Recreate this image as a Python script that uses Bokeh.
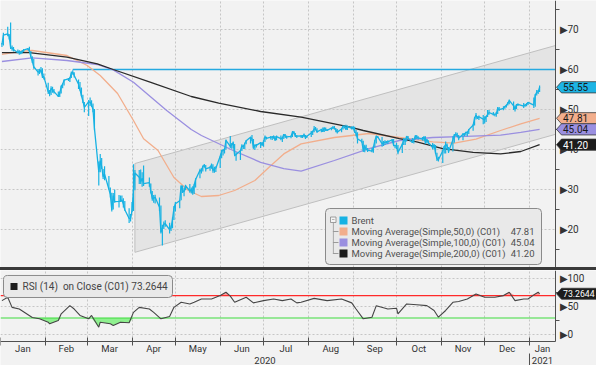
import numpy as np
import pandas as pd
from bokeh.plotting import figure
from bokeh.models import (Range1d, LinearAxis, FixedTicker, Grid, BoxAnnotation,
                          Label, PolyAnnotation, Div)
from bokeh.layouts import column
from bokeh.embed import file_html
from bokeh.resources import INLINE

# ---------------- data ----------------
holidays = ["2020-04-10", "2020-12-25", "2021-01-01"]

brent_close = [
    66.25, 68.60, 68.91, 68.27, 65.44, 65.37, 64.98, 64.20, 64.49, 64.00, 64.62, 64.85, 65.20, 64.59, 63.21, 62.04, 60.69, 59.32, 59.51, 59.81, 58.29, 58.16,
    54.45, 53.96, 55.28, 54.93, 54.47, 53.27, 54.01, 55.79, 56.34, 57.32, 57.67, 57.75, 59.12, 59.31, 58.50, 56.30, 54.95, 53.43, 52.18, 50.52,
    51.90, 51.86, 51.13, 49.99, 45.27, 34.36, 37.22, 35.79, 33.22, 33.85, 30.05, 28.73, 24.88, 28.47, 26.98, 27.03, 27.15, 27.39, 26.34, 24.93, 22.76, 22.74,
    24.74, 29.94, 34.11, 33.05, 31.87, 32.84, 31.48, 31.74, 29.60, 27.69, 27.82, 28.08, 25.57, 19.33, 20.37, 21.33, 21.44, 19.99, 20.46, 22.54, 25.27,
    26.44, 27.20, 30.97, 29.72, 29.46, 30.97, 29.63, 29.98, 29.19, 31.13, 32.50, 34.81, 34.65, 35.75, 36.06, 35.13, 35.53, 36.17, 34.74, 35.29, 35.33,
    38.32, 39.57, 39.79, 39.99, 42.30, 40.80, 41.18, 41.73, 38.55, 38.73, 39.72, 40.96, 40.71, 41.51, 42.19, 43.08, 42.63, 40.31, 41.05, 41.02, 41.71, 41.15,
    42.03, 43.14, 42.80, 43.10, 43.08, 43.29, 42.35, 43.24, 42.72, 42.90, 43.79, 43.37, 43.14, 43.28, 44.32, 44.29, 43.31, 43.34, 43.41, 43.22, 43.75, 42.94, 43.30,
    44.15, 44.43, 45.17, 45.09, 44.40, 44.99, 44.50, 45.43, 44.96, 44.80, 45.37, 45.46, 45.37, 44.90, 44.35, 45.13, 45.86, 45.64, 45.09, 45.81, 45.28,
    45.58, 44.43, 44.07, 42.66, 42.01, 39.78, 40.79, 40.06, 39.83, 39.61, 40.53, 42.22, 43.30, 43.15, 41.44, 41.72, 41.77, 41.94, 41.92, 42.43, 41.03, 40.95,
    40.93, 39.27, 41.29, 42.65, 41.99, 43.34, 42.85, 41.72, 42.45, 43.32, 43.16, 42.93, 42.62, 43.16, 41.73, 42.46, 41.77, 40.46, 41.20, 39.12, 37.65, 37.46,
    39.71, 40.71, 41.23, 40.93, 39.45, 42.40, 43.61, 43.80, 43.53, 42.78, 43.82, 43.75, 44.34, 44.20, 44.96, 46.06, 47.86, 48.61, 47.80, 48.18, 47.59,
    47.42, 48.25, 48.71, 49.25, 48.79, 48.84, 48.86, 50.25, 49.97, 50.29, 50.76, 51.08, 51.50, 52.26, 50.91, 50.08, 51.20, 51.29, 50.86, 51.09, 51.34, 51.80,
    51.09, 53.60, 54.30, 54.38, 55.55,
]
brent_high = [
    66.6, 69.2, 70.7, 68.9, 71.75, 66.0, 65.6, 65.0, 64.8, 64.6, 64.8, 65.1, 65.3, 65.7, 64.6, 63.3, 62.6, 60.1, 60.2, 60.6, 60.3, 59.0,
    56.7, 54.9, 55.8, 55.7, 55.1, 54.5, 54.5, 56.0, 56.5, 57.5, 57.9, 58.1, 59.5, 59.8, 59.3, 57.5, 56.9, 55.5, 53.7, 51.9,
    52.4, 53.0, 52.3, 51.5, 50.1, 37.0, 38.9, 37.9, 35.1, 35.8, 33.4, 30.5, 29.2, 29.1, 30.0, 28.6, 28.5, 28.5, 27.8, 27.1, 25.3, 23.9,
    26.9, 36.3, 34.9, 34.9, 35.0, 34.3, 36.0, 33.0, 31.5, 29.6, 28.6, 28.7, 28.0, 26.0, 21.2, 22.0, 22.3, 21.7, 21.0, 23.0, 25.9,
    26.9, 27.4, 31.0, 31.0, 30.3, 31.2, 31.4, 30.5, 30.8, 31.3, 32.8, 35.2, 35.3, 36.0, 36.4, 36.1, 35.8, 36.5, 36.3, 35.7, 35.8,
    38.4, 39.9, 40.1, 40.4, 42.5, 43.4, 41.6, 42.0, 41.4, 39.3, 39.9, 41.3, 41.1, 41.7, 42.4, 43.2, 43.6, 42.6, 41.3, 41.4, 41.9, 41.9,
    42.3, 43.5, 43.2, 43.4, 43.3, 43.5, 43.4, 43.5, 43.5, 43.0, 43.9, 43.9, 43.5, 43.5, 44.6, 44.6, 44.1, 43.6, 43.6, 43.6, 44.0, 43.6, 43.5,
    44.6, 44.7, 45.9, 45.6, 45.3, 45.2, 45.5, 45.5, 45.5, 45.1, 45.5, 45.9, 45.9, 45.4, 45.1, 45.3, 46.0, 46.0, 46.2, 46.0, 45.8,
    45.9, 45.7, 44.9, 44.3, 42.7, 42.2, 41.2, 41.2, 40.4, 40.4, 40.9, 42.4, 43.5, 43.4, 43.1, 42.1, 42.3, 42.1, 42.3, 42.6, 42.6, 41.2,
    41.7, 41.1, 41.5, 42.9, 42.8, 43.4, 43.4, 42.9, 42.6, 43.6, 43.6, 43.3, 43.1, 43.3, 43.3, 42.6, 42.3, 41.6, 41.3, 41.1, 39.2, 38.2,
    39.9, 40.9, 42.0, 41.5, 40.6, 43.3, 43.9, 44.3, 44.2, 43.6, 44.1, 44.1, 44.4, 44.5, 45.1, 46.3, 48.1, 49.1, 48.3, 48.5, 48.6,
    48.3, 48.4, 49.9, 49.9, 49.4, 48.9, 49.4, 50.6, 50.6, 50.8, 50.9, 51.2, 51.9, 52.5, 52.0, 51.0, 51.3, 51.5, 51.6, 51.4, 51.6, 51.9,
    53.0, 53.9, 54.9, 54.9, 56.0,
]
brent_low = [
    65.6, 66.0, 68.3, 67.5, 65.1, 64.7, 64.5, 64.1, 63.7, 63.8, 64.0, 64.4, 64.8, 64.4, 63.0, 61.6, 60.2, 58.5, 58.9, 59.2, 57.9, 57.5,
    53.9, 53.3, 53.6, 54.2, 54.0, 53.1, 53.1, 54.0, 55.3, 56.0, 57.1, 56.9, 57.9, 58.7, 58.0, 55.1, 54.7, 53.3, 51.6, 49.3,
    48.4, 50.9, 50.6, 49.3, 44.8, 31.0, 34.3, 35.1, 32.6, 32.3, 30.0, 28.0, 24.5, 25.0, 26.7, 25.5, 26.9, 26.9, 25.5, 24.7, 21.65, 22.0,
    24.3, 24.6, 29.8, 31.4, 31.4, 30.7, 30.9, 30.7, 29.0, 27.2, 26.7, 26.5, 24.6, 19.0, 15.98, 20.1, 20.7, 19.0, 19.6, 20.3, 22.4,
    24.5, 25.3, 27.3, 29.1, 28.3, 29.8, 29.2, 29.0, 28.7, 28.9, 30.5, 32.8, 34.0, 34.5, 35.5, 34.5, 34.7, 35.2, 34.2, 34.2, 34.4,
    35.4, 37.8, 38.5, 39.0, 40.0, 40.4, 40.2, 40.3, 38.3, 37.2, 37.4, 39.6, 40.1, 40.1, 41.3, 41.5, 42.1, 40.2, 39.9, 40.5, 40.4, 40.9,
    40.7, 41.9, 42.5, 42.5, 42.4, 42.7, 42.1, 42.3, 42.3, 41.9, 42.6, 42.9, 42.7, 42.8, 43.1, 43.8, 43.1, 42.9, 42.9, 42.9, 43.1, 42.6, 42.9,
    43.1, 43.6, 44.3, 44.8, 44.2, 44.3, 44.4, 44.4, 44.6, 44.6, 44.8, 45.1, 45.0, 44.3, 44.0, 44.3, 45.0, 45.3, 44.9, 44.9, 45.0,
    45.0, 44.2, 43.3, 41.5, 41.7, 39.4, 39.3, 39.8, 39.4, 39.3, 39.2, 40.5, 41.5, 42.9, 40.7, 40.9, 41.1, 41.5, 41.4, 41.8, 40.8, 40.3,
    40.1, 38.8, 39.1, 41.1, 41.1, 42.0, 42.5, 41.6, 41.5, 42.5, 42.6, 42.5, 42.2, 42.2, 41.4, 41.6, 41.3, 40.0, 40.2, 39.0, 37.1, 37.0,
    36.6, 39.0, 39.0, 40.0, 39.1, 39.5, 41.7, 43.3, 43.1, 42.3, 42.3, 43.3, 43.5, 43.3, 43.9, 44.7, 46.0, 47.5, 47.6, 47.4, 46.3,
    46.5, 46.9, 48.1, 48.7, 48.5, 48.3, 48.2, 48.9, 49.6, 49.8, 50.2, 50.5, 51.0, 51.3, 49.9, 49.5, 50.1, 50.9, 50.4, 50.7, 50.8, 51.1,
    50.4, 50.7, 53.5, 53.9, 54.4,
]

ma50_dates = ["2020-01-02", "2020-01-14", "2020-01-23", "2020-02-16", "2020-03-01", "2020-03-10",
              "2020-03-22", "2020-04-02", "2020-04-09", "2020-04-19", "2020-04-30", "2020-05-10",
              "2020-05-19", "2020-05-31", "2020-06-11", "2020-06-25", "2020-07-05", "2020-07-15",
              "2020-07-27", "2020-08-19", "2020-09-12", "2020-10-03", "2020-10-26", "2020-11-10",
              "2020-11-25", "2020-12-12", "2020-12-26", "2021-01-08"]
ma50 = [63.8, 64.5, 64.75, 63.5, 61.0, 58.5, 54.0, 47.25, 42.7, 39.75, 33.0, 29.75, 28.25, 28.5,
        29.75, 32.25, 35.6, 38.9, 41.4, 43.0, 44.0, 43.0, 41.9, 41.6, 42.6, 44.75, 46.4, 47.81]

ma100_dates = ["2020-01-02", "2020-01-23", "2020-02-16", "2020-03-08", "2020-03-19", "2020-04-02",
               "2020-04-25", "2020-05-12", "2020-05-19", "2020-06-10", "2020-06-29", "2020-07-15",
               "2020-07-27", "2020-08-19", "2020-09-12", "2020-10-03", "2020-10-26", "2020-11-18",
               "2020-12-12", "2020-12-26", "2021-01-08"]
ma100 = [62.0, 62.9, 62.25, 61.25, 59.9, 56.8, 49.75, 45.0, 43.5, 39.75, 36.8, 35.2, 34.6, 37.25,
         40.2, 42.25, 43.0, 43.3, 43.6, 44.3, 45.04]

ma200_dates = ["2020-01-02", "2020-01-21", "2020-02-16", "2020-03-08", "2020-03-19", "2020-04-14",
               "2020-05-12", "2020-05-31", "2020-06-29", "2020-07-27", "2020-08-30", "2020-09-08",
               "2020-10-03", "2020-10-15", "2020-11-02", "2020-11-23", "2020-12-12", "2020-12-26",
               "2021-01-08"]
ma200 = [64.2, 64.2, 63.1, 61.4, 60.0, 56.8, 53.25, 51.6, 49.5, 48.1, 45.6, 44.75, 42.7, 41.9,
         40.2, 39.3, 38.9, 39.5, 41.20]

rsi_dates = ["2020-01-02", "2020-01-06", "2020-01-09", "2020-01-14", "2020-01-23", "2020-01-28",
             "2020-02-03", "2020-02-04", "2020-02-10", "2020-02-12", "2020-02-18", "2020-02-21",
             "2020-02-25", "2020-03-02", "2020-03-04", "2020-03-09", "2020-03-10", "2020-03-17",
             "2020-03-19", "2020-03-24", "2020-03-30", "2020-04-02", "2020-04-06", "2020-04-13",
             "2020-04-16", "2020-04-21", "2020-04-27", "2020-04-30", "2020-05-05", "2020-05-11",
             "2020-05-14", "2020-05-19", "2020-05-26", "2020-06-01", "2020-06-05", "2020-06-08",
             "2020-06-11", "2020-06-19", "2020-06-24", "2020-07-01", "2020-07-08", "2020-07-14",
             "2020-07-20", "2020-07-24", "2020-07-27", "2020-08-05", "2020-08-14", "2020-08-24",
             "2020-08-31", "2020-09-03", "2020-09-08", "2020-09-14", "2020-09-17", "2020-09-25",
             "2020-10-01", "2020-10-02", "2020-10-08", "2020-10-15", "2020-10-22", "2020-10-27",
             "2020-10-30", "2020-11-04", "2020-11-09", "2020-11-13", "2020-11-19", "2020-11-25",
             "2020-12-01", "2020-12-08", "2020-12-14", "2020-12-18", "2020-12-22", "2020-12-28",
             "2020-12-31", "2021-01-05", "2021-01-07", "2021-01-08"]
rsi = [61, 67, 49, 46, 31, 28.5, 22.5, 19.6, 25.5, 37.5, 52, 46, 34.5, 28.5, 34.5, 13.6, 22.5,
       19.6, 16.6, 22.5, 21.4, 40, 49, 46, 40, 28.5, 32.7, 49, 58, 55, 58, 64, 64, 70, 76, 69, 58,
       67, 57, 61, 64, 61, 64, 57, 58, 65, 61, 64, 57, 46, 28.5, 31.4, 52, 46, 47.5, 37.5, 55, 53.6,
       52, 43.4, 31.4, 43.4, 58, 59.5, 64, 73, 67, 67, 70, 76, 61, 64, 64, 73, 76, 73.2644]

channel_dates = ["2020-04-03", "2021-01-19"]
channel_upper = [36.5, 66.0]
channel_lower = [14.3, 43.8]
hline_start = "2020-02-20"
hline_value = 60

price_ticks = [20, 30, 40, 50, 60, 70]
price_minor = [15, 25, 35, 45, 55, 65, 75]
rsi_ticks = [0, 50, 100]
rsi_minor = [25, 75]
rsi_low, rsi_high = 30, 70
month_labels = ["Jan", "Feb", "Mar", "Apr", "May", "Jun", "Jul", "Aug", "Sep", "Oct", "Nov", "Dec", "Jan"]
year_labels = ["2020", "2021"]
legend_names = ["Brent", "Moving Average(Simple,50,0) (C01)",
                "Moving Average(Simple,100,0) (C01)", "Moving Average(Simple,200,0) (C01)"]

# ---------------- styling ----------------
W = 596
BG = "#f2f2f2"
CYAN = "#17b2e3"
SALMON = "#f2ae8c"
PURPLE = "#9a8fe0"
BLACK = "#2a2a2a"
GRID = "#c6c6c6"
AXC = "#505050"
TXT = "#333333"
FONT = "Roboto"


def ms(d):
    return pd.Timestamp(d).value / 1e6


dates = pd.bdate_range("2020-01-02", "2021-01-08")
dates = dates[~dates.isin(pd.to_datetime(holidays))]
assert len(dates) == len(brent_close) == len(brent_high) == len(brent_low)
px = dates.asi8 / 1e6

x_start = ms("2020-01-01")
x_axis = ms("2021-01-19")                              # where the value axis sits
x_end = x_start + (x_axis - x_start) * 596.0 / 555.0   # frame spans the axis strip too
xr = Range1d(x_start, x_end)

month_starts = [ms(d) for d in pd.date_range("2020-01-01", "2021-01-01", freq="MS")]
mb = month_starts + [x_axis]
month_mids = [(mb[i] + mb[i + 1]) / 2 for i in range(len(month_labels))]
yb = [ms("2020-01-01"), ms("2021-01-01"), x_axis]
year_mids = [(yb[i] + yb[i + 1]) / 2 for i in range(len(year_labels))]


def base_fig(height, yr):
    return figure(width=W, height=height, x_range=xr, y_range=yr, x_axis_type=None,
                  y_axis_type=None, toolbar_location=None, output_backend="svg",
                  background_fill_color=BG, border_fill_color=BG, outline_line_color=None,
                  min_border_left=0, min_border_right=0, min_border_top=0, min_border_bottom=0)


def right_axis(f, ticks, minor, bounds="auto"):
    ax = LinearAxis(ticker=FixedTicker(ticks=ticks, minor_ticks=minor), fixed_location=x_axis,
                    bounds=bounds,
                    major_label_overrides={t: "\u25B6" + str(t) for t in ticks},
                    axis_line_color=AXC, major_tick_out=0, major_tick_in=0,
                    minor_tick_out=4, minor_tick_in=0, minor_tick_line_color=AXC,
                    major_label_standoff=0, major_label_text_font_size="10px",
                    major_label_text_color=TXT, major_label_text_font=FONT)
    f.add_layout(ax, "right")


def grids(f, yticks, ybounds):
    f.add_layout(Grid(dimension=0, ticker=FixedTicker(ticks=month_starts), grid_line_color=GRID,
                      grid_line_dash="2 2", grid_line_width=1, cross_bounds=ybounds))
    f.add_layout(Grid(dimension=1, ticker=FixedTicker(ticks=yticks), grid_line_color=GRID,
                      grid_line_dash="2 2", grid_line_width=1, cross_bounds=(x_start, x_axis)))


def tag(f, v, half, fill, txt, tcol, size="10px"):
    f.add_layout(PolyAnnotation(xs=[556, 561, 600, 600, 561], ys=[v, v + half, v + half, v - half, v - half],
                                xs_units="screen", ys_units="data", fill_color=fill, fill_alpha=1,
                                line_color="#3a3a3a", line_width=0.8, line_alpha=1))
    f.add_layout(Label(x=562.5, y=v, x_units="screen", y_units="data", text=txt, text_baseline="middle",
                       text_font_size=size, text_color=tcol, text_font=FONT))


def sbox(f, l, r, b, t, fill, line=None, lw=1, radius=0):
    f.add_layout(BoxAnnotation(left=l, right=r, bottom=b, top=t, left_units="screen", right_units="screen",
                               bottom_units="screen", top_units="screen", fill_color=fill, fill_alpha=1,
                               line_color=line, line_width=lw, line_alpha=1, border_radius=radius,
                               level="annotation"))


# ---------------- main panel ----------------
p = base_fig(267, Range1d(10.5, 77.25))
cx = [ms(d) for d in channel_dates]
p.patch(x=[cx[0], cx[1], cx[1], cx[0]],
        y=[channel_upper[0], channel_upper[1], channel_lower[1], channel_lower[0]],
        fill_color="#e4e4e4", line_color="#bfbfbf", line_width=1, level="image")
grids(p, price_ticks, "auto")
p.segment(x0=[ms(hline_start)], y0=[hline_value], x1=[x_axis], y1=[hline_value],
          line_color="#25a9e0", line_width=1.3)
p.line([ms(d) for d in ma50_dates], ma50, line_color=SALMON, line_width=1.3)
p.line([ms(d) for d in ma100_dates], ma100, line_color=PURPLE, line_width=1.3)
p.line([ms(d) for d in ma200_dates], ma200, line_color=BLACK, line_width=1.3)
p.segment(x0=px, y0=brent_low, x1=px, y1=brent_high, line_color=CYAN, line_width=1.2)
p.line(px, brent_close, line_color=CYAN, line_width=1.3)
right_axis(p, price_ticks, price_minor)

tag(p, brent_close[-1], 1.4, "#1db4e4", f"{brent_close[-1]:.2f}", "#1a1a1a")
tag(p, ma50[-1], 1.4, SALMON, f"{ma50[-1]:.2f}", "#1a1a1a")
tag(p, ma100[-1], 1.4, PURPLE, f"{ma100[-1]:.2f}", "#1a1a1a")
tag(p, ma200[-1], 1.4, "#1c1c1c", f"{ma200[-1]:.2f}", "white")

# legend (screen units measured up from the bottom of the price frame)
sbox(p, 325, 541, 3, 59, "#e9e9e9", "#8a8a8a", 1, 4)
rows = [47, 36, 25, 14]
cols = [CYAN, SALMON, PURPLE, "#1c1c1c"]
vals = ["", f"{ma50[-1]:.2f}", f"{ma100[-1]:.2f}", f"{ma200[-1]:.2f}"]
sbox(p, 330, 335.5, 45, 50.5, "#f4f4f4", "#888888", 0.8)
sbox(p, 331.5, 334, 47.55, 47.95, "#777777")
sbox(p, 332.4, 333.2, 13.8, 45, "#9a9a9a")
for yy, col, name, val in zip(rows, cols, legend_names, vals):
    if yy < 40:
        sbox(p, 332.4, 338, yy - 0.4, yy + 0.4, "#9a9a9a")
    sbox(p, 339, 347, yy - 4, yy + 4, col)
    p.add_layout(Label(x=351, y=yy, x_units="screen", y_units="screen", text=name,
                       text_baseline="middle", text_font_size="9.5px", text_color="#505050",
                       text_font=FONT))
    if val:
        p.add_layout(Label(x=534, y=yy, x_units="screen", y_units="screen", text=val,
                           text_align="right", text_baseline="middle", text_font_size="9.5px",
                           text_color="#505050", text_font=FONT))

# ---------------- RSI panel (with its date axis inside the frame) ----------------
rsi_bottom, rsi_top = -12.0, 114.8
px_per_unit = 71.0 / (rsi_top - rsi_bottom)
q_bottom = rsi_bottom - 24.0 / px_per_unit
q = base_fig(95, Range1d(q_bottom, rsi_top))
grids(q, rsi_ticks, (rsi_bottom, rsi_top))
rx = [ms(d) for d in rsi_dates]
ra = np.array(rsi, dtype=float)
q.varea(x=rx, y1=np.minimum(ra, rsi_low), y2=rsi_low, fill_color="#8ff08f", fill_alpha=1)
q.varea(x=rx, y1=rsi_high, y2=np.maximum(ra, rsi_high), fill_color="#ff9c9c", fill_alpha=1)
q.segment(x0=[x_start], y0=[rsi_high], x1=[x_axis], y1=[rsi_high], line_color="#ff2a2a", line_width=1.2)
q.segment(x0=[x_start], y0=[rsi_low], x1=[x_axis], y1=[rsi_low], line_color="#3ddc3d", line_width=1.2)
q.line(rx, rsi, line_color="#454545", line_width=1.1)
right_axis(q, rsi_ticks, rsi_minor, bounds=(rsi_bottom, rsi_top))
tag(q, rsi[-1], 5.5 / px_per_unit, "#1c1c1c", f"{rsi[-1]:.4f}", "white", "8.7px")

q.add_layout(BoxAnnotation(left=3, right=172, bottom=66.6, top=105.9, left_units="screen",
                           right_units="screen", fill_color="#e9e9e9", fill_alpha=1,
                           line_color="#8a8a8a", line_width=1, line_alpha=1, border_radius=4))
q.add_layout(BoxAnnotation(left=10, right=17, bottom=80.0, top=92.5, left_units="screen",
                           right_units="screen", fill_color="#1c1c1c", fill_alpha=1,
                           line_color=None))
q.add_layout(Label(x=22, y=86.3, x_units="screen", y_units="data",
                   text=f"RSI (14) \u00a0on Close (C01) {rsi[-1]:.4f}", text_baseline="middle",
                   text_font_size="10px", text_color="#444444", text_font=FONT))

mx = LinearAxis(ticker=FixedTicker(ticks=month_mids, minor_ticks=month_starts),
                fixed_location=rsi_bottom, bounds=(x_start, x_axis),
                major_label_overrides={t: l for t, l in zip(month_mids, month_labels)},
                axis_line_color=AXC, major_tick_out=0, major_tick_in=0, minor_tick_in=4,
                minor_tick_out=4, minor_tick_line_color=AXC, major_label_standoff=-3,
                major_label_text_font_size="9.5px", major_label_text_color=TXT,
                major_label_text_font=FONT)
q.add_layout(mx, "below")

# year row: labels centred on each year's span, a divider at the year change
year_y = rsi_bottom - 19.0 / px_per_unit
for xm, lab in zip(year_mids, year_labels):
    q.add_layout(Label(x=xm, y=year_y, text=lab, text_align="center", text_baseline="middle",
                       text_font_size="9.5px", text_color=TXT, text_font=FONT))
q.segment(x0=[yb[1]], y0=[rsi_bottom - 12.0 / px_per_unit], x1=[yb[1]], y1=[q_bottom],
          line_color=AXC, line_width=1)

sep = Div(text="", width=W, height=3, styles={"background-color": "#3a3a3a"}, margin=(0, 0, 0, 0))

layout = column(p, sep, q, spacing=0)
open("out.html", "w").write(file_html(layout, INLINE))
